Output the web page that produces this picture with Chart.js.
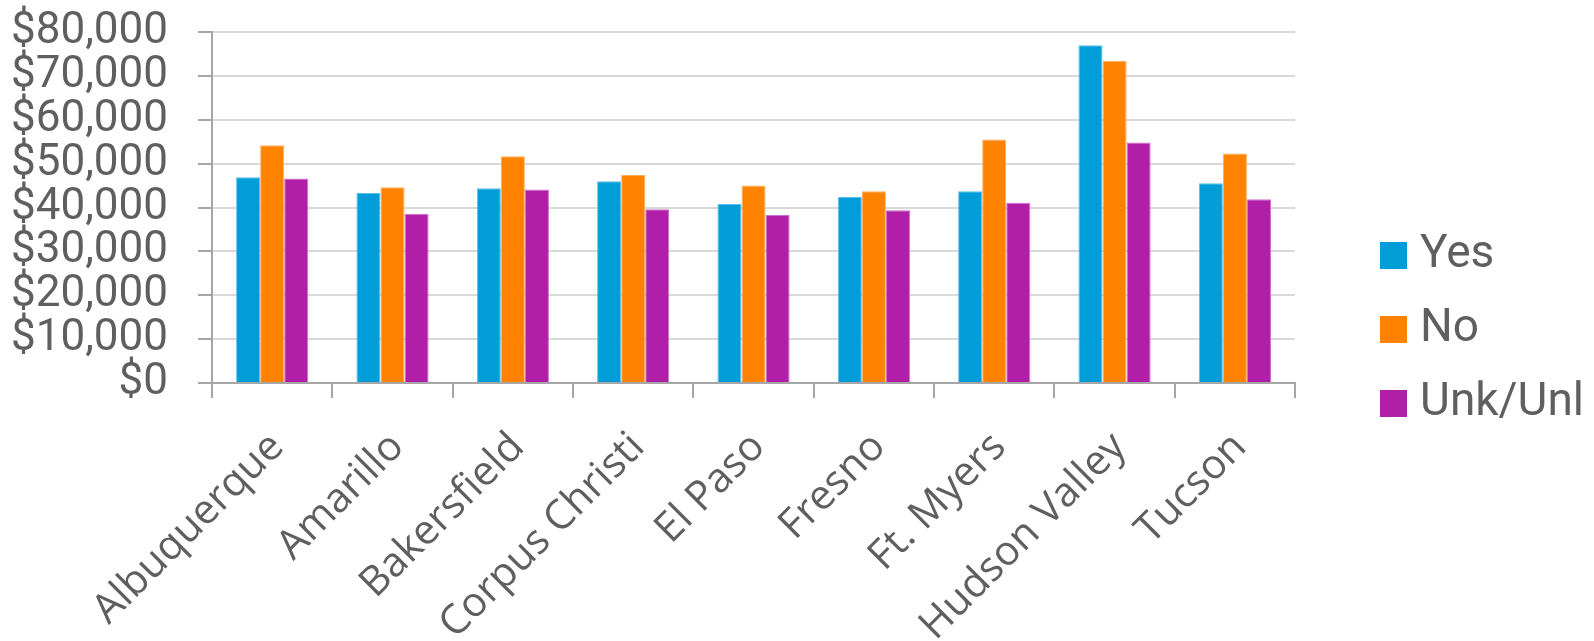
<!DOCTYPE html>
<html>
<head>
<meta charset="utf-8">
<script src="https://cdn.jsdelivr.net/npm/chart.js@4/dist/chart.umd.min.js"></script>
<style>
  html, body { margin: 0; padding: 0; background: #fff; }
  #wrap { width: 1594px; height: 641px; }
</style>
</head>
<body>
<div id="wrap"><canvas id="salary" width="1594" height="641"></canvas></div>
<script>
// Cities along the x axis
const cities = ["Albuquerque", "Amarillo", "Bakersfield", "Corpus Christi", "El Paso", "Fresno", "Ft. Myers", "Hudson Valley", "Tucson"];
// Average salary per group
const yesValues = [46900, 43300, 44400, 46000, 40800, 42400, 43700, 77000, 45500];
const noValues = [54200, 44600, 51700, 47400, 45000, 43700, 55500, 73400, 52300];
const unkValues = [46600, 38600, 44100, 39600, 38300, 39400, 41100, 54800, 41900];
const seriesNames = ["Yes", "No", "Unk/Unl"];
const seriesColors = ["#009dd9", "#ff8200", "#b11fa8"];
const edgeColors = ["#5cc0e8", "#ffad5c", "#cf6fc9"];

const textColor = "#5f5f5f";
const axisColor = "#a6a6a6";

// Small square swatch used as the legend marker
function swatch(color) {
  const c = document.createElement("canvas");
  c.width = 27;
  c.height = 27;
  const g = c.getContext("2d");
  g.fillStyle = color;
  g.fillRect(0, 0, 27, 27);
  return c;
}

const datasets = [yesValues, noValues, unkValues].map((values, i) => ({
  label: seriesNames[i],
  data: values,
  backgroundColor: seriesColors[i],
  borderColor: edgeColors[i],
  borderWidth: 1,
  pointStyle: swatch(seriesColors[i]),
}));

const ctx = document.getElementById("salary");
let myChart = new Chart(ctx, {
  type: "bar",
  data: { labels: cities, datasets: datasets },
  options: {
    responsive: false,
    animation: false,
    categoryPercentage: 0.6,
    barPercentage: 1.0,
    layout: { padding: { left: 0, top: 17, right: 0, bottom: 0 } },
    plugins: {
      tooltip: { enabled: false },
      legend: {
        position: "right",
        labels: {
          color: textColor,
          font: { family: "Roboto", size: 46 },
          usePointStyle: true,
          boxWidth: 7,
          boxHeight: 27,
          padding: 28,
        },
      },
    },
    scales: {
      x: {
        grid: {
          display: true,
          drawOnChartArea: false,
          offset: true,
          tickLength: 15,
          tickColor: axisColor,
          lineWidth: 2,
        },
        border: { color: axisColor, width: 2 },
        ticks: {
          color: textColor,
          font: { family: "Open Sans", size: 41 },
          maxRotation: 45,
          minRotation: 45,
          padding: 25,
          labelOffset: 5,
        },
        afterFit: (scale) => {
          scale.height = 258;
          scale.paddingLeft = 0;
          scale.paddingRight = 0;
        },
      },
      y: {
        min: 0,
        max: 80000,
        grid: { color: "#d9d9d9", tickColor: axisColor, tickLength: 14, lineWidth: 2 },
        border: { color: axisColor, width: 2 },
        ticks: {
          stepSize: 10000,
          autoSkip: false,
          color: textColor,
          font: { family: "Roboto", size: 44 },
          padding: 30,
          callback: (v) => "$" + v.toLocaleString("en-US"),
        },
        afterFit: (scale) => {
          scale.width = 212;
          scale.paddingTop = 32;
          scale.paddingBottom = 0;
        },
      },
      // Spacer scale on the right so the legend sits away from the plot
      gap: {
        position: "right",
        display: true,
        grid: { display: false },
        border: { display: false },
        ticks: { display: false },
        afterFit: (scale) => {
          scale.width = 67;
          scale.paddingTop = 0;
          scale.paddingBottom = 0;
        },
      },
    },
  },
});
</script>
</body>
</html>
